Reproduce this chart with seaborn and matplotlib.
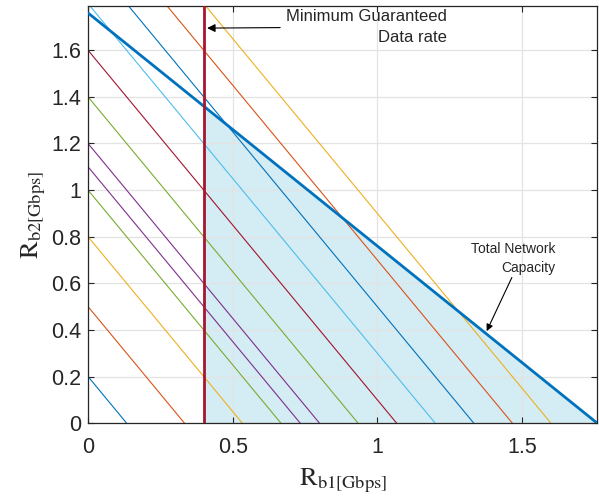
import numpy as np
import pandas as pd
import seaborn as sns
import matplotlib.pyplot as plt

# Rate-pair lines R2 = c - 1.5*R1, intercepts
intercepts = [0.2, 0.5, 0.8, 1.0, 1.1, 1.2, 1.4, 1.6, 1.8, 2.0, 2.2, 2.4]
line_colors = ['#0072BD', '#D95319', '#EDB120', '#77AC30', '#7E2F8E', '#7E2F8E',
               '#77AC30', '#A2142F', '#4DBEEE', '#0072BD', '#D95319', '#EDB120']
slope = 1.5

capacity = 1.76          # total network capacity, R1 + R2 = capacity
min_rate = 0.4           # minimum guaranteed data rate for R1

xticks = [0, 0.5, 1, 1.5]
xticklabels = ['0', '0.5', '1', '1.5']
yticks = [0, 0.2, 0.4, 0.6, 0.8, 1.0, 1.2, 1.4, 1.6]
yticklabels = ['0', '0.2', '0.4', '0.6', '0.8', '1', '1.2', '1.4', '1.6']

sns.set_style('ticks')
plt.rcParams['font.family'] = ['Liberation Sans', 'DejaVu Sans']
plt.rcParams['mathtext.fontset'] = 'stix'

# long-form table of the line end points
rows = []
for i, c in enumerate(intercepts):
    rows.append({'id': i, 'R1': 0.0, 'R2': c})
    rows.append({'id': i, 'R1': c / slope, 'R2': 0.0})
lines_df = pd.DataFrame(rows)
palette = {i: col for i, col in enumerate(line_colors)}

cap_df = pd.DataFrame({'R1': [0.0, capacity], 'R2': [capacity, 0.0]})

fig, ax = plt.subplots(figsize=(5.99, 4.99), dpi=100)
fig.subplots_adjust(left=0.147, right=0.997, top=0.988, bottom=0.152)

# feasible region
xs = np.array([min_rate, capacity])
ax.fill_between(xs, capacity - xs, 0, color='#D4ECF4', lw=0, zorder=0.3)

sns.lineplot(data=lines_df, x='R1', y='R2', hue='id', palette=palette,
             estimator=None, sort=False, legend=False, lw=0.8, ax=ax)
sns.lineplot(data=cap_df, x='R1', y='R2', color='#0072BD', lw=2.0,
             estimator=None, sort=False, ax=ax, zorder=3)
ax.axvline(min_rate, color='#A8152F', lw=2.0, zorder=3)

ax.set_xlim(0, capacity)
ax.set_ylim(0, 1.79)
ax.set_xticks(xticks)
ax.set_xticklabels(xticklabels)
ax.set_yticks(yticks)
ax.set_yticklabels(yticklabels)
ax.tick_params(direction='in', labelsize=15.5, colors='#262626', length=4,
               top=True, right=True)
ax.tick_params(axis='x', pad=10)
ax.tick_params(axis='y', pad=5)
ax.grid(True, color='#E3E3E3', lw=0.9)
ax.set_axisbelow(True)
for s in ax.spines.values():
    s.set_visible(True)
    s.set_color('#262626')
    s.set_linewidth(0.9)

ax.set_xlabel(r'$\mathrm{R}_{\mathrm{b1[Gbps]}}$', fontsize=19, color='#262626', labelpad=6)
ax.set_ylabel(r'$\mathrm{R}_{\mathrm{b2[Gbps]}}$', fontsize=19, color='#262626', labelpad=2)

ax.annotate('Minimum Guaranteed\nData rate', xy=(0.402, 1.695), xytext=(0.685, 1.70),
            ha='left', va='center', fontsize=12, multialignment='right', linespacing=1.45,
            arrowprops=dict(arrowstyle='-|>', color='black', lw=0.8, shrinkA=2))

ax.text(1.615, 0.705, 'Total Network\nCapacity', ha='right', va='center',
        fontsize=10, multialignment='right', linespacing=1.45)
ax.annotate('', xy=(1.378, 0.395), xytext=(1.465, 0.625),
            arrowprops=dict(arrowstyle='-|>', color='black', lw=0.8,
                            shrinkA=0, shrinkB=0))

fig.savefig('out.png', dpi=100)
